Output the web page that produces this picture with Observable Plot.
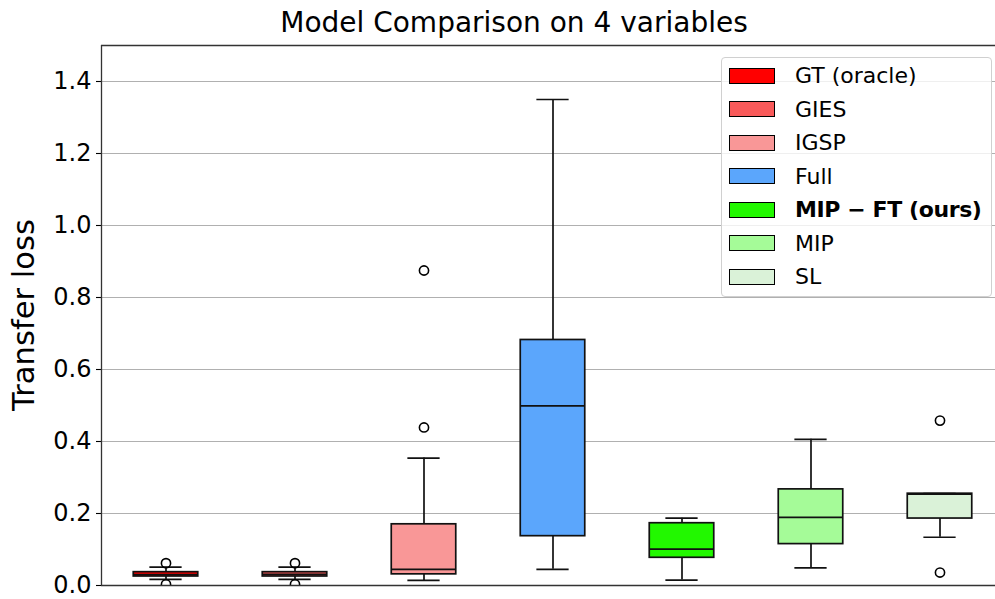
<!DOCTYPE html>
<html>
<head>
<meta charset="utf-8">
<script src="https://cdn.jsdelivr.net/npm/d3@7"></script>
<script src="https://cdn.jsdelivr.net/npm/@observablehq/plot@0.6"></script>
<style>
  html, body { margin: 0; padding: 0; background: #fff; }
  #wrap { position: relative; width: 995px; height: 599px; font-family: "DejaVu Sans", sans-serif; overflow: hidden; }
  #title { position: absolute; top: 6px; left: 0; width: 1028px; text-align: center; font-size: 28px; color: #000; }
  #ylabel { position: absolute; left: 23px; top: 315px; transform: translate(-50%, -50%) rotate(-90deg); font-size: 30.6px; white-space: nowrap; }
  #legend { position: absolute; left: 721px; top: 57px; width: 269px; height: 238px; border: 1px solid #d0d0d0; border-radius: 4px; background: rgba(255,255,255,0.8); }
  .patch { position: absolute; left: 7px; width: 44px; height: 14px; border: 1.5px solid #000; }
  .lab { position: absolute; left: 73px; font-size: 22px; white-space: nowrap; line-height: 20px; }
</style>
</head>
<body>
<div id="wrap">
  <div id="chart"></div>
  <div id="title">Model Comparison on 4 variables</div>
  <div id="ylabel">Transfer loss</div>
  <div id="legend"></div>
</div>
<script>
const methods = ["GT (oracle)", "GIES", "IGSP", "Full", "MIP − FT (ours)", "MIP", "SL"];
const boldMethod = [false, false, false, false, true, false, false];
const colors = ["#ff0000", "#f95a5a", "#f99797", "#5ba6fc", "#22f800", "#a5fb98", "#daf2d8"];
const whiskerLow  = [0.017, 0.017, 0.014, 0.045, 0.015, 0.049, 0.134];
const q1          = [0.025, 0.025, 0.031, 0.137, 0.077, 0.115, 0.186];
const median      = [0.030, 0.031, 0.045, 0.499, 0.101, 0.189, 0.254];
const q3          = [0.037, 0.037, 0.170, 0.682, 0.173, 0.267, 0.255];
const whiskerHigh = [0.051, 0.051, 0.354, 1.350, 0.187, 0.406, 0.255];
const outlierMethod = [0, 0, 1, 1, 2, 2, 6, 6];
const outlierValue  = [0.062, 0.003, 0.062, 0.003, 0.875, 0.439, 0.458, 0.036];
const yTicks = [0, 0.2, 0.4, 0.6, 0.8, 1.0, 1.2, 1.4];

const boxes = methods.map((m, i) => ({
  pos: i + 1, color: colors[i],
  lo: whiskerLow[i], q1: q1[i], med: median[i], q3: q3[i], hi: whiskerHigh[i]
}));
const outliers = outlierMethod.map((m, i) => ({ pos: m + 1, v: outlierValue[i] }));

const half = 0.25, capHalf = 0.125;
const lw = 1.7;

const chart = Plot.plot({
  width: 995,
  height: 599,
  marginLeft: 101,
  marginRight: 0,
  marginTop: 45,
  marginBottom: 14,
  style: { fontFamily: "DejaVu Sans, sans-serif", color: "#000", background: "transparent" },
  x: { type: "linear", domain: [0.5, 0.5 + 894 / 129], axis: null },
  y: { domain: [0, 1.5], axis: null },
  color: { type: "identity" },
  marks: [
    Plot.ruleY(yTicks.slice(1), { stroke: "#b0b0b0", strokeWidth: 1.1 }),
    Plot.axisY({ ticks: yTicks, tickFormat: d => d.toFixed(1), tickSize: 5, tickPadding: 5, fontSize: 24, label: null, stroke: "#000", strokeWidth: 1.1 }),
    Plot.rect(boxes, { x1: d => d.pos - half, x2: d => d.pos + half, y1: "q1", y2: "q3", fill: "color", stroke: "#111", strokeWidth: lw }),
    Plot.ruleX(boxes, { x: "pos", y1: "lo", y2: "q1", stroke: "#111", strokeWidth: lw }),
    Plot.ruleX(boxes, { x: "pos", y1: "q3", y2: "hi", stroke: "#111", strokeWidth: lw }),
    Plot.ruleY(boxes, { y: "lo", x1: d => d.pos - capHalf, x2: d => d.pos + capHalf, stroke: "#111", strokeWidth: lw }),
    Plot.ruleY(boxes, { y: "hi", x1: d => d.pos - capHalf, x2: d => d.pos + capHalf, stroke: "#111", strokeWidth: lw }),
    Plot.ruleY(boxes, { y: "med", x1: d => d.pos - half, x2: d => d.pos + half, stroke: "#111", strokeWidth: lw }),
    Plot.dot(outliers, { x: "pos", y: "v", r: 4.6, stroke: "#000", fill: "none", strokeWidth: 1.6, clip: true }),
    Plot.ruleY([0, 1.5], { stroke: "#333", strokeWidth: 1.3 }),
    Plot.ruleX([0.5], { y1: 0, y2: 1.5, stroke: "#333", strokeWidth: 1.3 })
  ]
});
document.getElementById("chart").appendChild(chart);

const legend = document.getElementById("legend");
methods.forEach((m, i) => {
  const cy = 18 + i * 33.5;
  const p = document.createElement("div");
  p.className = "patch";
  p.style.top = (cy - 8.5) + "px";
  p.style.background = colors[i];
  legend.appendChild(p);
  const t = document.createElement("div");
  t.className = "lab";
  t.style.top = (cy - 10) + "px";
  t.textContent = m;
  if (boldMethod[i]) { t.style.fontWeight = "bold"; t.style.letterSpacing = "-0.4px"; }
  legend.appendChild(t);
});
</script>
</body>
</html>
